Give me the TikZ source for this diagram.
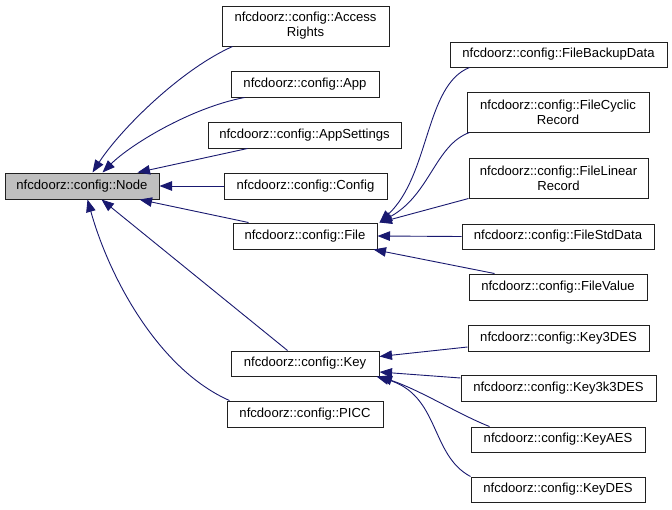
\documentclass[tikz,border=0pt]{standalone}
\usepackage{fontspec}
\setmainfont{Liberation Sans}
\usetikzlibrary{arrows.meta}
\definecolor{edgecol}{HTML}{191970}
\definecolor{nodegray}{HTML}{BFBFBF}
\definecolor{bordercol}{HTML}{202020}
\begin{document}
\begin{tikzpicture}[x=1pt,y=-1pt,
 cls/.style={draw=bordercol, line width=1pt, fill=white, inner sep=0pt, align=center, minimum height=26pt, font=\fontsize{13.1}{15}\selectfont},
 inh/.style={draw=edgecol, line width=0.9pt, -{Triangle[length=12.5pt,width=9.5pt]}}]
\useasboundingbox[fill=white] (0,0) rectangle (672,509);
% left / middle column
\node[cls, fill=nodegray, minimum width=154pt] (node) at (82,186) {nfcdoorz::config::Node};
\node[cls, minimum width=167pt, minimum height=40pt] (access) at (305.5,26) {nfcdoorz::config::Access\\Rights};
\node[cls, minimum width=148pt] (app) at (305,84) {nfcdoorz::config::App};
\node[cls, minimum width=193pt] (appset) at (304.5,135) {nfcdoorz::config::AppSettings};
\node[cls, minimum width=163pt] (config) at (305.5,186) {nfcdoorz::config::Config};
\node[cls, minimum width=144pt] (file) at (305,236) {nfcdoorz::config::File};
\node[cls, minimum width=148pt, minimum height=25pt] (key) at (305,363.5) {nfcdoorz::config::Key};
\node[cls, minimum width=156pt] (picc) at (305,414) {nfcdoorz::config::PICC};
% right column
\node[cls, minimum width=217pt, minimum height=25pt] (fbackup) at (558.5,54.5) {nfcdoorz::config::FileBackupData};
\node[cls, minimum width=182pt, minimum height=40pt] (fcyclic) at (558,112) {nfcdoorz::config::FileCyclic\\Record};
\node[cls, minimum width=179pt, minimum height=40pt] (flinear) at (558.5,178) {nfcdoorz::config::FileLinear\\Record};
\node[cls, minimum width=192pt, minimum height=25pt] (fstd) at (558,236.5) {nfcdoorz::config::FileStdData};
\node[cls, minimum width=178pt] (fvalue) at (558,287) {nfcdoorz::config::FileValue};
\node[cls, minimum width=181pt] (k3des) at (558.5,338) {nfcdoorz::config::Key3DES};
\node[cls, minimum width=195pt] (k3k3des) at (558.5,388) {nfcdoorz::config::Key3k3DES};
\node[cls, minimum width=174pt, minimum height=25pt] (kaes) at (558,439.5) {nfcdoorz::config::KeyAES};
\node[cls, minimum width=174pt, minimum height=25pt] (kdes) at (558,489.5) {nfcdoorz::config::KeyDES};
% edges to Node
\draw[inh] ([xshift=11pt]access.south west) .. controls (180,70) and (120,130) .. ([xshift=88pt]node.north west);
\draw[inh] ([xshift=14pt]app.south west) .. controls (190,108) and (130,145) .. ([xshift=98pt]node.north west);
\draw[inh] ([xshift=40pt]appset.south west) -- ([xshift=133pt]node.north west);
\draw[inh] (config.west) -- (node.east);
\draw[inh] ([xshift=16pt]file.north west) -- ([xshift=135pt]node.south west);
\draw[inh] ([xshift=57pt]key.north west) -- ([xshift=97pt]node.south west);
\draw[inh] ([xshift=3pt]picc.north west) .. controls (160,370) and (110,280) .. ([xshift=83pt]node.south west);
% edges to File
\draw[inh] ([xshift=20pt]fbackup.south west) .. controls (425,85) and (430,175) .. ([xshift=2pt]file.north east);
\draw[inh] ([xshift=3pt]fcyclic.south west) .. controls (435,145) and (430,195) .. ([xshift=2pt]file.north east);
\draw[inh] (flinear.south west) -- ([xshift=2pt]file.north east);
\draw[inh] (fstd.west) -- (file.east);
\draw[inh] ([xshift=26pt]fvalue.north west) -- ([xshift=-4pt]file.south east);
% edges to Key
\draw[inh] ([yshift=-9pt]k3des.west) -- ([yshift=7pt]key.east);
\draw[inh] ([yshift=10pt]k3k3des.west) -- ([yshift=-8.5pt]key.east);
\draw[inh] ([xshift=19pt]kaes.north west) .. controls (460,415) and (420,390) .. (key.south east);
\draw[inh] (kdes.north west) .. controls (430,455) and (440,395) .. ([xshift=-3pt]key.south east);
\end{tikzpicture}
\end{document}
